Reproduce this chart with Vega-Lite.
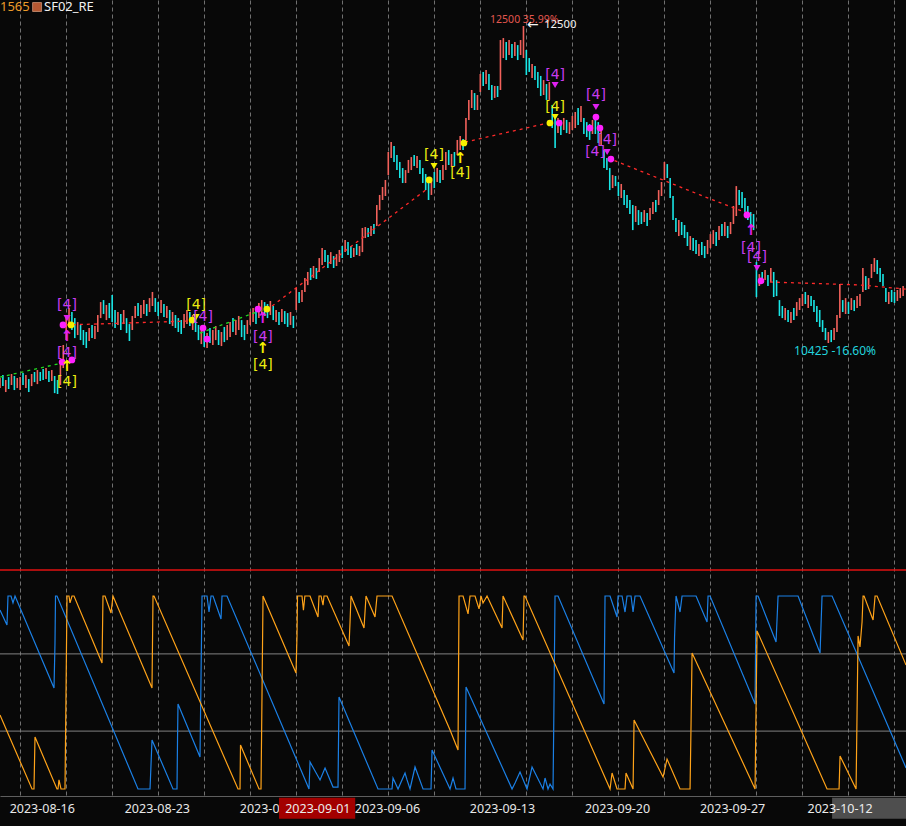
{
  "$schema": "https://vega.github.io/schema/vega-lite/v6.json",
  "width": 906,
  "height": 796,
  "autosize": {"type": "none"},
  "padding": {"left": 0, "top": 0, "right": 0, "bottom": 30},
  "background": "#080808",
  "config": {"view": {"stroke": null}, "font": "Noto Sans"},
  "datasets": {
    "bars": [
      {"i":-7,"l":10130,"h":10196,"d":"up"},{"i":-6,"l":10143,"h":10215,"d":"dn"},{"i":-5,"l":10104,"h":10183,"d":"up"},{"i":-4,"l":10124,"h":10202,"d":"dn"},{"i":-3,"l":10150,"h":10222,"d":"up"},{"i":-2,"l":10117,"h":10209,"d":"dn"},{"i":-1,"l":10130,"h":10196,"d":"up"},
      {"i":0,"l":10117,"h":10202,"d":"up"},{"i":1,"l":10150,"h":10228,"d":"dn"},{"i":2,"l":10130,"h":10215,"d":"up"},{"i":3,"l":10104,"h":10189,"d":"dn"},{"i":4,"l":10143,"h":10222,"d":"up"},{"i":5,"l":10169,"h":10235,"d":"dn"},{"i":6,"l":10156,"h":10248,"d":"up"},{"i":7,"l":10176,"h":10235,"d":"dn"},
      {"i":8,"l":10183,"h":10255,"d":"dn"},{"i":9,"l":10189,"h":10261,"d":"up"},{"i":10,"l":10169,"h":10241,"d":"dn"},{"i":11,"l":10176,"h":10248,"d":"up"},{"i":12,"l":10097,"h":10209,"d":"dn"},{"i":13,"l":10091,"h":10183,"d":"dn"},{"i":14,"l":10150,"h":10300,"d":"up"},{"i":15,"l":10261,"h":10412,"d":"up"},
      {"i":16,"l":10444,"h":10588,"d":"up"},{"i":17,"l":10543,"h":10654,"d":"up"},{"i":18,"l":10510,"h":10628,"d":"dn"},{"i":19,"l":10457,"h":10588,"d":"dn"},{"i":20,"l":10477,"h":10562,"d":"up"},{"i":21,"l":10444,"h":10543,"d":"dn"},{"i":22,"l":10412,"h":10510,"d":"dn"},{"i":23,"l":10392,"h":10497,"d":"dn"},
      {"i":24,"l":10438,"h":10523,"d":"up"},{"i":25,"l":10457,"h":10543,"d":"dn"},{"i":26,"l":10451,"h":10536,"d":"up"},{"i":27,"l":10497,"h":10608,"d":"up"},{"i":28,"l":10588,"h":10693,"d":"up"},{"i":29,"l":10615,"h":10706,"d":"dn"},{"i":30,"l":10575,"h":10674,"d":"up"},{"i":31,"l":10588,"h":10687,"d":"dn"},
      {"i":32,"l":10562,"h":10739,"d":"dn"},{"i":33,"l":10523,"h":10641,"d":"dn"},{"i":34,"l":10543,"h":10628,"d":"up"},{"i":35,"l":10510,"h":10615,"d":"dn"},{"i":36,"l":10549,"h":10641,"d":"up"},{"i":37,"l":10490,"h":10588,"d":"dn"},{"i":38,"l":10438,"h":10549,"d":"dn"},{"i":39,"l":10510,"h":10602,"d":"up"},
      {"i":40,"l":10588,"h":10667,"d":"up"},{"i":41,"l":10602,"h":10687,"d":"dn"},{"i":42,"l":10588,"h":10674,"d":"up"},{"i":43,"l":10615,"h":10706,"d":"up"},{"i":44,"l":10602,"h":10680,"d":"dn"},{"i":45,"l":10628,"h":10719,"d":"up"},{"i":46,"l":10667,"h":10759,"d":"up"},{"i":47,"l":10628,"h":10719,"d":"dn"},
      {"i":48,"l":10602,"h":10693,"d":"dn"},{"i":49,"l":10621,"h":10706,"d":"up"},{"i":50,"l":10595,"h":10680,"d":"dn"},{"i":51,"l":10588,"h":10667,"d":"up"},{"i":52,"l":10549,"h":10641,"d":"dn"},{"i":53,"l":10536,"h":10628,"d":"up"},{"i":54,"l":10523,"h":10608,"d":"dn"},{"i":55,"l":10497,"h":10588,"d":"dn"},
      {"i":56,"l":10484,"h":10575,"d":"dn"},{"i":57,"l":10523,"h":10615,"d":"up"},{"i":58,"l":10549,"h":10641,"d":"up"},{"i":59,"l":10536,"h":10628,"d":"dn"},{"i":60,"l":10510,"h":10608,"d":"up"},{"i":61,"l":10497,"h":10588,"d":"dn"},{"i":62,"l":10444,"h":10543,"d":"dn"},{"i":63,"l":10418,"h":10523,"d":"up"},
      {"i":64,"l":10399,"h":10510,"d":"dn"},{"i":65,"l":10392,"h":10490,"d":"up"},{"i":66,"l":10425,"h":10523,"d":"dn"},{"i":67,"l":10412,"h":10510,"d":"up"},{"i":68,"l":10444,"h":10536,"d":"up"},{"i":69,"l":10412,"h":10510,"d":"dn"},{"i":70,"l":10405,"h":10497,"d":"up"},{"i":71,"l":10431,"h":10530,"d":"dn"},
      {"i":72,"l":10444,"h":10543,"d":"up"},{"i":73,"l":10464,"h":10562,"d":"up"},{"i":74,"l":10497,"h":10588,"d":"dn"},{"i":75,"l":10477,"h":10575,"d":"up"},{"i":76,"l":10510,"h":10602,"d":"up"},{"i":77,"l":10464,"h":10575,"d":"dn"},{"i":78,"l":10444,"h":10543,"d":"dn"},{"i":79,"l":10484,"h":10575,"d":"up"},
      {"i":80,"l":10543,"h":10628,"d":"up"},{"i":81,"l":10562,"h":10654,"d":"up"},{"i":82,"l":10549,"h":10641,"d":"dn"},{"i":83,"l":10588,"h":10687,"d":"up"},{"i":84,"l":10615,"h":10706,"d":"up"},{"i":85,"l":10602,"h":10693,"d":"dn"},{"i":86,"l":10588,"h":10680,"d":"dn"},{"i":87,"l":10608,"h":10700,"d":"up"},
      {"i":88,"l":10575,"h":10667,"d":"dn"},{"i":89,"l":10562,"h":10641,"d":"up"},{"i":90,"l":10543,"h":10628,"d":"dn"},{"i":91,"l":10562,"h":10647,"d":"up"},{"i":92,"l":10549,"h":10634,"d":"dn"},{"i":93,"l":10530,"h":10621,"d":"dn"},{"i":94,"l":10543,"h":10628,"d":"up"},{"i":95,"l":10523,"h":10602,"d":"dn"},
      {"i":96,"l":10641,"h":10785,"d":"up"},{"i":97,"l":10687,"h":10759,"d":"dn"},{"i":98,"l":10693,"h":10772,"d":"up"},{"i":99,"l":10759,"h":10850,"d":"up"},{"i":100,"l":10804,"h":10890,"d":"up"},{"i":101,"l":10837,"h":10916,"d":"dn"},{"i":102,"l":10850,"h":10929,"d":"up"},{"i":103,"l":10844,"h":10916,"d":"dn"},
      {"i":104,"l":10890,"h":10981,"d":"up"},{"i":105,"l":10935,"h":11047,"d":"up"},{"i":106,"l":10955,"h":11034,"d":"dn"},{"i":107,"l":10916,"h":11001,"d":"dn"},{"i":108,"l":10942,"h":11020,"d":"up"},{"i":109,"l":10916,"h":10994,"d":"dn"},{"i":110,"l":10929,"h":11007,"d":"up"},{"i":111,"l":10955,"h":11034,"d":"up"},
      {"i":112,"l":10981,"h":11060,"d":"dn"},{"i":113,"l":11020,"h":11099,"d":"up"},{"i":114,"l":11001,"h":11086,"d":"dn"},{"i":115,"l":10981,"h":11060,"d":"dn"},{"i":116,"l":10988,"h":11047,"d":"up"},{"i":117,"l":11001,"h":11073,"d":"dn"},{"i":118,"l":10994,"h":11060,"d":"up"},{"i":119,"l":11020,"h":11178,"d":"up"},
      {"i":120,"l":11112,"h":11184,"d":"up"},{"i":121,"l":11119,"h":11178,"d":"dn"},{"i":122,"l":11125,"h":11191,"d":"up"},{"i":123,"l":11138,"h":11204,"d":"dn"},{"i":124,"l":11191,"h":11328,"d":"up"},{"i":125,"l":11295,"h":11394,"d":"up"},{"i":126,"l":11361,"h":11446,"d":"up"},{"i":127,"l":11387,"h":11492,"d":"up"},
      {"i":128,"l":11524,"h":11675,"d":"up"},{"i":129,"l":11636,"h":11740,"d":"up"},{"i":130,"l":11610,"h":11714,"d":"dn"},{"i":131,"l":11557,"h":11655,"d":"dn"},{"i":132,"l":11505,"h":11610,"d":"dn"},{"i":133,"l":11472,"h":11570,"d":"dn"},{"i":134,"l":11472,"h":11557,"d":"up"},{"i":135,"l":11538,"h":11623,"d":"up"},
      {"i":136,"l":11557,"h":11642,"d":"up"},{"i":137,"l":11583,"h":11655,"d":"dn"},{"i":138,"l":11570,"h":11649,"d":"up"},{"i":139,"l":11531,"h":11623,"d":"dn"},{"i":140,"l":11472,"h":11570,"d":"dn"},{"i":141,"l":11426,"h":11531,"d":"dn"},{"i":142,"l":11361,"h":11492,"d":"dn"},{"i":143,"l":11394,"h":11505,"d":"up"},
      {"i":144,"l":11439,"h":11544,"d":"dn"},{"i":145,"l":11479,"h":11570,"d":"up"},{"i":146,"l":11472,"h":11557,"d":"dn"},{"i":147,"l":11492,"h":11590,"d":"up"},{"i":148,"l":11557,"h":11675,"d":"up"},{"i":149,"l":11590,"h":11688,"d":"dn"},{"i":150,"l":11577,"h":11662,"d":"up"},{"i":151,"l":11583,"h":11675,"d":"dn"},
      {"i":152,"l":11655,"h":11754,"d":"up"},{"i":153,"l":11688,"h":11780,"d":"up"},{"i":154,"l":11688,"h":11760,"d":"dn"},{"i":155,"l":11754,"h":11898,"d":"up"},{"i":156,"l":11885,"h":12016,"d":"up"},{"i":157,"l":11963,"h":12081,"d":"up"},{"i":158,"l":11950,"h":12061,"d":"dn"},{"i":159,"l":11950,"h":12048,"d":"up"},
      {"i":160,"l":12068,"h":12186,"d":"up"},{"i":161,"l":12107,"h":12199,"d":"dn"},{"i":162,"l":12120,"h":12212,"d":"up"},{"i":163,"l":12081,"h":12186,"d":"dn"},{"i":164,"l":12016,"h":12114,"d":"dn"},{"i":165,"l":12029,"h":12107,"d":"up"},{"i":166,"l":12035,"h":12107,"d":"dn"},{"i":167,"l":12081,"h":12408,"d":"up"},
      {"i":168,"l":12290,"h":12421,"d":"up"},{"i":169,"l":12277,"h":12395,"d":"dn"},{"i":170,"l":12310,"h":12408,"d":"up"},{"i":171,"l":12290,"h":12382,"d":"dn"},{"i":172,"l":12303,"h":12395,"d":"up"},{"i":173,"l":12277,"h":12375,"d":"dn"},{"i":174,"l":12310,"h":12408,"d":"up"},{"i":175,"l":12290,"h":12500,"d":"up"},
      {"i":176,"l":12179,"h":12343,"d":"dn"},{"i":177,"l":12199,"h":12290,"d":"dn"},{"i":178,"l":12159,"h":12251,"d":"up"},{"i":179,"l":12146,"h":12238,"d":"dn"},{"i":180,"l":12094,"h":12199,"d":"dn"},{"i":181,"l":12042,"h":12173,"d":"dn"},{"i":182,"l":12048,"h":12146,"d":"up"},{"i":183,"l":12016,"h":12120,"d":"dn"},
      {"i":184,"l":12016,"h":12133,"d":"up"},{"i":185,"l":11832,"h":11983,"d":"dn"},{"i":186,"l":11701,"h":11917,"d":"dn"},{"i":187,"l":11799,"h":11898,"d":"up"},{"i":188,"l":11786,"h":11885,"d":"dn"},{"i":189,"l":11819,"h":11898,"d":"up"},{"i":190,"l":11799,"h":11885,"d":"dn"},{"i":191,"l":11793,"h":11871,"d":"up"},
      {"i":192,"l":11819,"h":11911,"d":"up"},{"i":193,"l":11832,"h":11937,"d":"up"},{"i":194,"l":11852,"h":11963,"d":"dn"},{"i":195,"l":11871,"h":11976,"d":"up"},{"i":196,"l":11793,"h":11898,"d":"dn"},{"i":197,"l":11773,"h":11871,"d":"dn"},{"i":198,"l":11754,"h":11858,"d":"dn"},{"i":199,"l":11793,"h":11885,"d":"up"},
      {"i":200,"l":11793,"h":11898,"d":"dn"},{"i":201,"l":11734,"h":11871,"d":"dn"},{"i":202,"l":11721,"h":11832,"d":"up"},{"i":203,"l":11570,"h":11688,"d":"dn"},{"i":204,"l":11557,"h":11636,"d":"dn"},{"i":205,"l":11426,"h":11570,"d":"dn"},{"i":206,"l":11439,"h":11524,"d":"up"},{"i":207,"l":11452,"h":11518,"d":"dn"},
      {"i":208,"l":11387,"h":11479,"d":"dn"},{"i":209,"l":11374,"h":11466,"d":"up"},{"i":210,"l":11328,"h":11426,"d":"dn"},{"i":211,"l":11308,"h":11394,"d":"dn"},{"i":212,"l":11269,"h":11361,"d":"dn"},{"i":213,"l":11164,"h":11328,"d":"dn"},{"i":214,"l":11217,"h":11322,"d":"up"},{"i":215,"l":11197,"h":11295,"d":"dn"},
      {"i":216,"l":11204,"h":11282,"d":"dn"},{"i":217,"l":11217,"h":11295,"d":"up"},{"i":218,"l":11191,"h":11276,"d":"dn"},{"i":219,"l":11230,"h":11308,"d":"up"},{"i":220,"l":11269,"h":11348,"d":"up"},{"i":221,"l":11282,"h":11361,"d":"dn"},{"i":222,"l":11328,"h":11426,"d":"up"},{"i":223,"l":11387,"h":11479,"d":"up"},
      {"i":224,"l":11492,"h":11610,"d":"up"},{"i":225,"l":11505,"h":11596,"d":"dn"},{"i":226,"l":11374,"h":11505,"d":"dn"},{"i":227,"l":11230,"h":11387,"d":"dn"},{"i":228,"l":11151,"h":11243,"d":"dn"},{"i":229,"l":11125,"h":11230,"d":"up"},{"i":230,"l":11132,"h":11217,"d":"dn"},{"i":231,"l":11112,"h":11197,"d":"dn"},
      {"i":232,"l":11060,"h":11151,"d":"dn"},{"i":233,"l":11034,"h":11125,"d":"up"},{"i":234,"l":11027,"h":11112,"d":"dn"},{"i":235,"l":11007,"h":11099,"d":"dn"},{"i":236,"l":10994,"h":11073,"d":"up"},{"i":237,"l":11001,"h":11086,"d":"dn"},{"i":238,"l":10981,"h":11060,"d":"dn"},{"i":239,"l":11007,"h":11099,"d":"up"},
      {"i":240,"l":11047,"h":11138,"d":"up"},{"i":241,"l":11073,"h":11164,"d":"up"},{"i":242,"l":11060,"h":11151,"d":"dn"},{"i":243,"l":11099,"h":11191,"d":"up"},{"i":244,"l":11125,"h":11204,"d":"dn"},{"i":245,"l":11125,"h":11217,"d":"up"},{"i":246,"l":11112,"h":11191,"d":"dn"},{"i":247,"l":11138,"h":11217,"d":"up"},
      {"i":248,"l":11204,"h":11322,"d":"up"},{"i":249,"l":11256,"h":11452,"d":"up"},{"i":250,"l":11328,"h":11426,"d":"dn"},{"i":251,"l":11308,"h":11413,"d":"dn"},{"i":252,"l":11282,"h":11374,"d":"dn"},{"i":253,"l":11230,"h":11322,"d":"dn"},{"i":254,"l":11178,"h":11282,"d":"dn"},{"i":255,"l":11164,"h":11269,"d":"dn"},
      {"i":256,"l":10726,"h":10955,"d":"dn"},{"i":257,"l":10798,"h":10876,"d":"up"},{"i":258,"l":10824,"h":10890,"d":"dn"},{"i":259,"l":10837,"h":10903,"d":"up"},{"i":260,"l":10798,"h":10870,"d":"dn"},{"i":261,"l":10824,"h":10916,"d":"up"},{"i":262,"l":10726,"h":10890,"d":"dn"},{"i":263,"l":10732,"h":10837,"d":"dn"},
      {"i":264,"l":10602,"h":10706,"d":"dn"},{"i":265,"l":10588,"h":10667,"d":"dn"},{"i":266,"l":10575,"h":10654,"d":"up"},{"i":267,"l":10562,"h":10641,"d":"dn"},{"i":268,"l":10556,"h":10628,"d":"up"},{"i":269,"l":10575,"h":10654,"d":"dn"},{"i":270,"l":10602,"h":10693,"d":"up"},{"i":271,"l":10641,"h":10719,"d":"up"},
      {"i":272,"l":10667,"h":10746,"d":"up"},{"i":273,"l":10680,"h":10759,"d":"dn"},{"i":274,"l":10654,"h":10739,"d":"up"},{"i":275,"l":10667,"h":10732,"d":"dn"},{"i":276,"l":10628,"h":10706,"d":"dn"},{"i":277,"l":10562,"h":10667,"d":"dn"},{"i":278,"l":10530,"h":10641,"d":"dn"},{"i":279,"l":10497,"h":10575,"d":"dn"},
      {"i":280,"l":10444,"h":10523,"d":"dn"},{"i":281,"l":10425,"h":10497,"d":"up"},{"i":282,"l":10431,"h":10510,"d":"dn"},{"i":283,"l":10444,"h":10523,"d":"up"},{"i":284,"l":10497,"h":10608,"d":"up"},{"i":285,"l":10588,"h":10811,"d":"up"},{"i":286,"l":10628,"h":10706,"d":"dn"},{"i":287,"l":10615,"h":10719,"d":"up"},
      {"i":288,"l":10615,"h":10693,"d":"dn"},{"i":289,"l":10641,"h":10719,"d":"up"},{"i":290,"l":10634,"h":10706,"d":"dn"},{"i":291,"l":10654,"h":10732,"d":"up"},{"i":292,"l":10667,"h":10746,"d":"up"},{"i":293,"l":10759,"h":10916,"d":"up"},{"i":294,"l":10772,"h":10863,"d":"dn"},{"i":295,"l":10778,"h":10850,"d":"up"},
      {"i":296,"l":10850,"h":10942,"d":"up"},{"i":297,"l":10890,"h":10981,"d":"up"},{"i":298,"l":10876,"h":10968,"d":"dn"},{"i":299,"l":10824,"h":10916,"d":"dn"},{"i":300,"l":10798,"h":10876,"d":"dn"},{"i":301,"l":10693,"h":10785,"d":"dn"},{"i":302,"l":10680,"h":10759,"d":"up"},{"i":303,"l":10693,"h":10772,"d":"dn"},
      {"i":304,"l":10687,"h":10759,"d":"dn"},{"i":305,"l":10700,"h":10772,"d":"up"},{"i":306,"l":10719,"h":10785,"d":"up"},{"i":307,"l":10732,"h":10798,"d":"up"}
    ],
    "trend": [
      {"seg":1,"kind":"sup","i":-7,"p":10202},{"seg":1,"kind":"sup","i":14.6,"p":10294},
      {"seg":2,"kind":"sup","i":62.5,"p":10490},{"seg":2,"kind":"sup","i":84.1,"p":10641},
      {"seg":3,"kind":"res","i":15.9,"p":10543},{"seg":3,"kind":"res","i":59.1,"p":10569},
      {"seg":4,"kind":"res","i":87.6,"p":10667},{"seg":4,"kind":"res","i":141.5,"p":11433},
      {"seg":5,"kind":"res","i":154.7,"p":11740},{"seg":5,"kind":"res","i":184.9,"p":11871},
      {"seg":6,"kind":"res","i":204.4,"p":11636},{"seg":6,"kind":"res","i":236.4,"p":11394},{"seg":6,"kind":"res","i":254.5,"p":11263},
      {"seg":7,"kind":"res","i":260.7,"p":10824},{"seg":7,"kind":"res","i":292,"p":10805},{"seg":7,"kind":"res","i":308,"p":10778}
    ],
    "marks": [
      {"kind":"tag","col":"m","i":16.3,"p":10674},{"kind":"tag","col":"m","i":16.3,"p":10359},{"kind":"tag","col":"m","i":63.6,"p":10595},{"kind":"tag","col":"m","i":84.4,"p":10464},{"kind":"tag","col":"m","i":186.0,"p":12179},{"kind":"tag","col":"m","i":200.2,"p":12048},{"kind":"tag","col":"m","i":204.1,"p":11754},{"kind":"tag","col":"m","i":199.9,"p":11675},{"kind":"tag","col":"m","i":254.1,"p":11047},{"kind":"tag","col":"m","i":256.2,"p":10988},
      {"kind":"tag","col":"y","i":16.3,"p":10169},{"kind":"tag","col":"y","i":61.2,"p":10674},{"kind":"tag","col":"y","i":84.4,"p":10281},{"kind":"tag","col":"y","i":143.9,"p":11655},{"kind":"tag","col":"y","i":153.0,"p":11538},{"kind":"tag","col":"y","i":186.0,"p":11970},
      {"kind":"dn","col":"m","i":186.0,"p":12114},{"kind":"dn","col":"m","i":200.2,"p":11970},{"kind":"dn","col":"m","i":204.1,"p":11675},{"kind":"dn","col":"m","i":256.2,"p":10916},{"kind":"dn","col":"m","i":16.3,"p":10588},
      {"kind":"dn","col":"y","i":61.2,"p":10595},{"kind":"dn","col":"y","i":143.9,"p":11583},{"kind":"dn","col":"y","i":186.0,"p":11904},
      {"kind":"up","col":"y","i":16.3,"p":10274},{"kind":"up","col":"y","i":84.4,"p":10392},{"kind":"up","col":"y","i":153.0,"p":11636},
      {"kind":"up","col":"m","i":16.3,"p":10471},{"kind":"up","col":"m","i":84.4,"p":10588},{"kind":"up","col":"m","i":254.1,"p":11164},
      {"kind":"dot","col":"y","i":17.7,"p":10543},{"kind":"dot","col":"y","i":59.8,"p":10575},{"kind":"dot","col":"y","i":85.8,"p":10647},{"kind":"dot","col":"y","i":142.2,"p":11492},{"kind":"dot","col":"y","i":154.3,"p":11734},{"kind":"dot","col":"y","i":184.2,"p":11865},
      {"kind":"dot","col":"m","i":14.9,"p":10543},{"kind":"dot","col":"m","i":63.6,"p":10523},{"kind":"dot","col":"m","i":65.0,"p":10451},{"kind":"dot","col":"m","i":82.7,"p":10647},{"kind":"dot","col":"m","i":187.4,"p":11865},{"kind":"dot","col":"m","i":200.2,"p":11904},{"kind":"dot","col":"m","i":198.1,"p":11832},{"kind":"dot","col":"m","i":201.6,"p":11832},{"kind":"dot","col":"m","i":205.4,"p":11629},{"kind":"dot","col":"m","i":252.7,"p":11263},{"kind":"dot","col":"m","i":257.6,"p":10831},{"kind":"dot","col":"m","i":14.6,"p":10300},{"kind":"dot","col":"m","i":18.0,"p":10314}
    ],
    "ind": [
      {"s":"B","i":-7,"v":92.7},{"s":"B","i":-4.57,"v":85.0},{"s":"B","i":-4.22,"v":100},{"s":"B","i":-3.18,"v":100},{"s":"B","i":-2.48,"v":96.4},{"s":"B","i":-1.78,"v":100},{"s":"B","i":11.78,"v":52.3},{"s":"B","i":12.12,"v":75.6},{"s":"B","i":12.3,"v":100},{"s":"B","i":12.82,"v":100},{"s":"B","i":40.98,"v":0},{"s":"B","i":45.16,"v":0},{"s":"B","i":45.5,"v":12.4},{"s":"B","i":45.85,"v":25.4},{"s":"B","i":53.15,"v":0},{"s":"B","i":54.54,"v":0},{"s":"B","i":54.72,"v":25.4},{"s":"B","i":54.89,"v":44.0},{"s":"B","i":62.54,"v":16.6},{"s":"B","i":62.89,"v":58.0},{"s":"B","i":63.24,"v":100},{"s":"B","i":64.98,"v":100},{"s":"B","i":65.67,"v":91.7},{"s":"B","i":66.37,"v":100},{"s":"B","i":67.06,"v":100},{"s":"B","i":69.84,"v":88.1},{"s":"B","i":70.19,"v":100},{"s":"B","i":71.93,"v":100},{"s":"B","i":100.44,"v":0},{"s":"B","i":100.79,"v":14.0},{"s":"B","i":104.27,"v":4.7},{"s":"B","i":106.01,"v":10.9},{"s":"B","i":108.79,"v":1.0},{"s":"B","i":110.52,"v":1.0},{"s":"B","i":110.87,"v":47.7},{"s":"B","i":124.43,"v":0},{"s":"B","i":129.3,"v":0},{"s":"B","i":129.65,"v":5.7},{"s":"B","i":131.39,"v":0},{"s":"B","i":133.82,"v":8.3},{"s":"B","i":134.52,"v":4.7},{"s":"B","i":135.56,"v":0},{"s":"B","i":137.3,"v":11.4},{"s":"B","i":140.08,"v":0},{"s":"B","i":142.86,"v":0},{"s":"B","i":143.21,"v":20.2},{"s":"B","i":149.47,"v":0},{"s":"B","i":150.51,"v":5.7},{"s":"B","i":151.55,"v":0},{"s":"B","i":154.68,"v":0},{"s":"B","i":155.03,"v":52.8},{"s":"B","i":171.03,"v":0},{"s":"B","i":172.07,"v":3.1},{"s":"B","i":173.8,"v":8.8},{"s":"B","i":176.24,"v":0},{"s":"B","i":177.98,"v":11.4},{"s":"B","i":181.8,"v":0},{"s":"B","i":182.5,"v":5.7},{"s":"B","i":183.54,"v":0},{"s":"B","i":184.24,"v":2.6},{"s":"B","i":185.28,"v":0},{"s":"B","i":185.63,"v":47.7},{"s":"B","i":185.97,"v":100},{"s":"B","i":187.02,"v":100},{"s":"B","i":203.01,"v":44.0},{"s":"B","i":203.18,"v":72.0},{"s":"B","i":203.36,"v":100},{"s":"B","i":205.1,"v":100},{"s":"B","i":207.53,"v":89.1},{"s":"B","i":207.88,"v":100},{"s":"B","i":209.27,"v":100},{"s":"B","i":210.31,"v":91.7},{"s":"B","i":211.01,"v":100},{"s":"B","i":212.4,"v":100},{"s":"B","i":213.1,"v":91.7},{"s":"B","i":213.79,"v":100},{"s":"B","i":215.53,"v":100},{"s":"B","i":227.35,"v":60.1},{"s":"B","i":227.53,"v":78.8},{"s":"B","i":228.05,"v":100},{"s":"B","i":229.44,"v":91.7},{"s":"B","i":230.14,"v":100},{"s":"B","i":235.01,"v":100},{"s":"B","i":238.83,"v":86.5},{"s":"B","i":239.18,"v":100},{"s":"B","i":239.87,"v":100},{"s":"B","i":255.52,"v":44.0},{"s":"B","i":255.87,"v":100},{"s":"B","i":256.56,"v":100},{"s":"B","i":262.82,"v":76.2},{"s":"B","i":263.52,"v":100},{"s":"B","i":270.47,"v":100},{"s":"B","i":278.12,"v":70.5},{"s":"B","i":278.46,"v":85.0},{"s":"B","i":278.81,"v":100},{"s":"B","i":282.29,"v":100},{"s":"B","i":308.02,"v":10.9},
      {"s":"A","i":-7,"v":38.3},{"s":"A","i":4.13,"v":0},{"s":"A","i":4.82,"v":0},{"s":"A","i":5.17,"v":26.9},{"s":"A","i":12.82,"v":0},{"s":"A","i":13.17,"v":0},{"s":"A","i":13.51,"v":4.7},{"s":"A","i":14.21,"v":0},{"s":"A","i":15.6,"v":0},{"s":"A","i":15.95,"v":49.7},{"s":"A","i":16.3,"v":100},{"s":"A","i":16.99,"v":100},{"s":"A","i":17.34,"v":96.4},{"s":"A","i":18.03,"v":100},{"s":"A","i":18.73,"v":100},{"s":"A","i":28.47,"v":65.3},{"s":"A","i":28.64,"v":82.4},{"s":"A","i":28.81,"v":100},{"s":"A","i":29.51,"v":100},{"s":"A","i":31.6,"v":91.2},{"s":"A","i":32.29,"v":100},{"s":"A","i":45.85,"v":52.3},{"s":"A","i":46.02,"v":75.6},{"s":"A","i":46.2,"v":100},{"s":"A","i":46.55,"v":100},{"s":"A","i":75.75,"v":0},{"s":"A","i":76.45,"v":0},{"s":"A","i":76.62,"v":22.8},{"s":"A","i":83.06,"v":0},{"s":"A","i":83.75,"v":0},{"s":"A","i":84.1,"v":49.7},{"s":"A","i":84.45,"v":100},{"s":"A","i":95.92,"v":60.1},{"s":"A","i":96.27,"v":79.8},{"s":"A","i":96.44,"v":100},{"s":"A","i":98,"v":100},{"s":"A","i":98.5,"v":92.7},{"s":"A","i":99,"v":100},{"s":"A","i":100.79,"v":100},{"s":"A","i":103.57,"v":89.1},{"s":"A","i":103.92,"v":100},{"s":"A","i":104.62,"v":100},{"s":"A","i":105.31,"v":95.3},{"s":"A","i":105.66,"v":100},{"s":"A","i":106.7,"v":100},{"s":"A","i":114.35,"v":74.1},{"s":"A","i":114.7,"v":86.5},{"s":"A","i":115.04,"v":100},{"s":"A","i":119.56,"v":83.4},{"s":"A","i":120.26,"v":100},{"s":"A","i":123.39,"v":89.1},{"s":"A","i":124.08,"v":100},{"s":"A","i":129.3,"v":100},{"s":"A","i":149.47,"v":30.6},{"s":"A","i":152.25,"v":20.2},{"s":"A","i":152.42,"v":60.1},{"s":"A","i":152.6,"v":100},{"s":"A","i":153.99,"v":100},{"s":"A","i":155.73,"v":90.7},{"s":"A","i":156.42,"v":100},{"s":"A","i":158.16,"v":100},{"s":"A","i":159.55,"v":93.3},{"s":"A","i":160.25,"v":100},{"s":"A","i":160.94,"v":96.4},{"s":"A","i":162.33,"v":100},{"s":"A","i":167.55,"v":83.4},{"s":"A","i":167.89,"v":100},{"s":"A","i":174.85,"v":77.2},{"s":"A","i":175.2,"v":100},{"s":"A","i":175.54,"v":100},{"s":"A","i":205.1,"v":0},{"s":"A","i":205.8,"v":8.3},{"s":"A","i":207.53,"v":0},{"s":"A","i":210.31,"v":0},{"s":"A","i":210.66,"v":8.3},{"s":"A","i":213.1,"v":0},{"s":"A","i":213.45,"v":35.8},{"s":"A","i":223.53,"v":6.2},{"s":"A","i":224.92,"v":15.5},{"s":"A","i":229.44,"v":0},{"s":"A","i":232.92,"v":0},{"s":"A","i":233.27,"v":34.2},{"s":"A","i":233.62,"v":70.5},{"s":"A","i":255.52,"v":0},{"s":"A","i":255.87,"v":42.5},{"s":"A","i":256.21,"v":81.9},{"s":"A","i":280.55,"v":0},{"s":"A","i":284.73,"v":0},{"s":"A","i":285.07,"v":17.1},{"s":"A","i":290.64,"v":0},{"s":"A","i":290.98,"v":39.4},{"s":"A","i":291.33,"v":79.3},{"s":"A","i":292,"v":73.6},{"s":"A","i":292.72,"v":86.5},{"s":"A","i":293.07,"v":100},{"s":"A","i":293.42,"v":100},{"s":"A","i":296.55,"v":87.6},{"s":"A","i":297.25,"v":100},{"s":"A","i":297.94,"v":100},{"s":"A","i":308.02,"v":64.2}
    ],
    "notes": [
      {"txt":"12500 35.99%","i":163.4,"p":12539,"role":"peak"},
      {"txt":"12500","i":182.2,"p":12506,"role":"peakval"},
      {"txt":"10425 -16.60%","i":269.1,"p":10372,"role":"trough"}
    ],
    "head": [
      {"txt":"1565","i":-7,"p":12624,"role":"code"},
      {"txt":"SF02_RE","i":8.3,"p":12624,"role":"name"}
    ],
    "dates": [
      {"date":"2023-08-16","i":7.7},{"date":"2023-08-23","i":47.7},{"date":"2023-08-30","i":87.7},{"date":"2023-09-06","i":127.7},{"date":"2023-09-13","i":167.7},{"date":"2023-09-20","i":207.7},{"date":"2023-09-27","i":247.7}
    ],
    "levels": [{"lvl":70},{"lvl":30}]
  },
  "layer": [
    {
      "data": {"name": "bars"},
      "mark": {"type": "rule", "strokeWidth": 1.6},
      "encoding": {
        "x": {"field": "i", "type": "quantitative", "title": null,
          "scale": {"domain": [-7, 308], "nice": false, "zero": false},
          "axis": {
            "values": [0,8,16,24,32,40,48,56,64,72,80,88,96,104,112,120,128,136,144,152,160,168,176,184,192,200,208,216,224,232,240,248,256,264,272,280,288,296,304],
            "labels": false,
            "grid": true, "gridDash": [4, 3], "gridColor": "#707070", "gridWidth": 1,
            "ticks": false, "domainColor": "#5e5e5e", "title": null
          }
        },
        "y": {"field": "l", "type": "quantitative", "scale": {"domain": [7460, 12670], "nice": false, "zero": false}, "axis": null},
        "y2": {"field": "h"},
        "color": {"field": "d", "type": "nominal", "scale": {"domain": ["up", "dn"], "range": ["#f2615b", "#19e6e6"]}, "legend": null}
      }
    },
    {
      "data": {"name": "levels"},
      "mark": {"type": "rule", "color": "#828282", "strokeWidth": 1},
      "encoding": {
        "y": {"field": "lvl", "type": "quantitative", "scale": {"domain": [-3.63, 408.81], "nice": false, "zero": false}, "axis": null}
      }
    },
    {
      "data": {"values": [{"sep": "panel"}]},
      "mark": {"type": "rule", "color": "#e01010", "strokeWidth": 1.5},
      "encoding": {
        "y": {"datum": 113.5, "type": "quantitative", "scale": {"domain": [-3.63, 408.81], "nice": false, "zero": false}, "axis": null}
      }
    },
    {
      "data": {"name": "ind"},
      "mark": {"type": "line", "strokeWidth": 1.2},
      "encoding": {
        "x": {"field": "i", "type": "quantitative", "title": null, "scale": {"domain": [-7, 308], "nice": false, "zero": false}},
        "y": {"field": "v", "type": "quantitative", "scale": {"domain": [-3.63, 408.81], "nice": false, "zero": false}, "axis": null},
        "color": {"field": "s", "type": "nominal", "scale": {"domain": ["A", "B"], "range": ["#ffa319", "#1b80e6"]}, "legend": null}
      }
    },
    {
      "data": {"name": "trend"},
      "mark": {"type": "line", "strokeWidth": 1.3, "strokeDash": [3, 4]},
      "encoding": {
        "x": {"field": "i", "type": "quantitative", "title": null, "scale": {"domain": [-7, 308], "nice": false, "zero": false}},
        "y": {"field": "p", "type": "quantitative", "scale": {"domain": [7460, 12670], "nice": false, "zero": false}, "axis": null},
        "detail": {"field": "seg", "type": "nominal"},
        "color": {"field": "kind", "type": "nominal", "scale": {"domain": ["sup", "res"], "range": ["#22dd22", "#ff2a2a"]}, "legend": null}
      }
    },
    {
      "data": {"name": "marks"},
      "transform": [{"filter": "datum.kind == 'dot'"}],
      "mark": {"type": "point", "filled": true, "size": 45, "opacity": 1},
      "encoding": {
        "x": {"field": "i", "type": "quantitative", "title": null, "scale": {"domain": [-7, 308], "nice": false, "zero": false}},
        "y": {"field": "p", "type": "quantitative", "scale": {"domain": [7460, 12670], "nice": false, "zero": false}, "axis": null},
        "color": {"field": "col", "type": "nominal", "scale": {"domain": ["y", "m"], "range": ["#f5f000", "#ff20ff"]}, "legend": null}
      }
    },
    {
      "data": {"name": "marks"},
      "transform": [{"filter": "datum.kind == 'dn'"}],
      "mark": {"type": "point", "shape": "triangle-down", "filled": true, "size": 50, "opacity": 1},
      "encoding": {
        "x": {"field": "i", "type": "quantitative", "title": null, "scale": {"domain": [-7, 308], "nice": false, "zero": false}},
        "y": {"field": "p", "type": "quantitative", "scale": {"domain": [7460, 12670], "nice": false, "zero": false}, "axis": null},
        "color": {"field": "col", "type": "nominal", "scale": {"domain": ["y", "m"], "range": ["#f5f000", "#e020f0"]}, "legend": null}
      }
    },
    {
      "data": {"name": "marks"},
      "transform": [{"filter": "datum.kind == 'up'"}],
      "mark": {"type": "text", "text": "↑", "font": "DejaVu Sans", "fontSize": 15, "fontWeight": "bold", "baseline": "middle", "align": "center"},
      "encoding": {
        "x": {"field": "i", "type": "quantitative", "title": null, "scale": {"domain": [-7, 308], "nice": false, "zero": false}},
        "y": {"field": "p", "type": "quantitative", "scale": {"domain": [7460, 12670], "nice": false, "zero": false}, "axis": null},
        "color": {"field": "col", "type": "nominal", "scale": {"domain": ["y", "m"], "range": ["#f5f000", "#e020f0"]}, "legend": null}
      }
    },
    {
      "data": {"name": "marks"},
      "transform": [{"filter": "datum.kind == 'tag'"}],
      "mark": {"type": "text", "text": "[4]", "font": "DejaVu Sans", "fontSize": 14, "baseline": "middle", "align": "center"},
      "encoding": {
        "x": {"field": "i", "type": "quantitative", "title": null, "scale": {"domain": [-7, 308], "nice": false, "zero": false}},
        "y": {"field": "p", "type": "quantitative", "scale": {"domain": [7460, 12670], "nice": false, "zero": false}, "axis": null},
        "color": {"field": "col", "type": "nominal", "scale": {"domain": ["y", "m"], "range": ["#ecec10", "#c83cf0"]}, "legend": null}
      }
    },
    {
      "data": {"name": "notes"},
      "mark": {"type": "text", "font": "Noto Sans", "baseline": "middle", "align": "left"},
      "encoding": {
        "x": {"field": "i", "type": "quantitative", "title": null, "scale": {"domain": [-7, 308], "nice": false, "zero": false}},
        "y": {"field": "p", "type": "quantitative", "scale": {"domain": [7460, 12670], "nice": false, "zero": false}, "axis": null},
        "text": {"field": "txt"},
        "size": {"field": "role", "type": "ordinal", "scale": {"domain": ["peak", "peakval", "trough"], "range": [10.5, 12, 10.5]}, "legend": null},
        "color": {"field": "role", "type": "nominal", "scale": {"domain": ["peak", "peakval", "trough"], "range": ["#e2574f", "#f4f4f4", "#22d3dd"]}, "legend": null}
      }
    },
    {
      "data": {"values": [{"note": "peak pointer"}]},
      "mark": {"type": "text", "text": "←", "font": "DejaVu Sans", "fontSize": 14, "color": "#f4f4f4", "baseline": "middle", "align": "left"},
      "encoding": {
        "x": {"datum": 176.2, "type": "quantitative", "scale": {"domain": [-7, 308], "nice": false, "zero": false}},
        "y": {"datum": 12506, "type": "quantitative", "scale": {"domain": [7460, 12670], "nice": false, "zero": false}, "axis": null}
      }
    },
    {
      "data": {"name": "head"},
      "mark": {"type": "text", "font": "Noto Sans", "fontSize": 13, "baseline": "middle", "align": "left"},
      "encoding": {
        "x": {"field": "i", "type": "quantitative", "title": null, "scale": {"domain": [-7, 308], "nice": false, "zero": false}},
        "y": {"field": "p", "type": "quantitative", "scale": {"domain": [7460, 12670], "nice": false, "zero": false}, "axis": null},
        "text": {"field": "txt"},
        "color": {"field": "role", "type": "nominal", "scale": {"domain": ["code", "name"], "range": ["#eb9b2a", "#f2f2f2"]}, "legend": null}
      }
    },
    {
      "data": {"values": [{"icon": "series"}]},
      "mark": {"type": "point", "shape": "square", "filled": true, "size": 80, "color": "#ff7a45", "stroke": "#ffb088", "strokeWidth": 1},
      "encoding": {
        "x": {"datum": 5.9, "type": "quantitative", "scale": {"domain": [-7, 308], "nice": false, "zero": false}},
        "y": {"datum": 12624, "type": "quantitative", "scale": {"domain": [7460, 12670], "nice": false, "zero": false}, "axis": null}
      }
    },
    {
      "data": {"name": "dates"},
      "mark": {"type": "text", "font": "Noto Sans", "fontSize": 12.5, "color": "#e8e8e8", "baseline": "middle", "align": "center"},
      "encoding": {
        "x": {"field": "i", "type": "quantitative", "title": null, "scale": {"domain": [-7, 308], "nice": false, "zero": false}},
        "y": {"datum": -10.4, "type": "quantitative", "scale": {"domain": [-3.63, 408.81], "nice": false, "zero": false}, "axis": null},
        "text": {"field": "date"}
      }
    },
    {
      "data": {"values": [{"box": "cursor"}]},
      "mark": {"type": "rect", "color": "#a30000"},
      "encoding": {
        "x": {"datum": 90, "type": "quantitative", "scale": {"domain": [-7, 308], "nice": false, "zero": false}},
        "x2": {"datum": 116.5},
        "y": {"datum": -4.6, "type": "quantitative", "scale": {"domain": [-3.63, 408.81], "nice": false, "zero": false}, "axis": null},
        "y2": {"datum": -15.4}
      }
    },
    {
      "data": {"values": [{"box": "edge"}]},
      "mark": {"type": "rect", "color": "#4e4e4e"},
      "encoding": {
        "x": {"datum": 282.3, "type": "quantitative", "scale": {"domain": [-7, 308], "nice": false, "zero": false}},
        "x2": {"datum": 308},
        "y": {"datum": -4.6, "type": "quantitative", "scale": {"domain": [-3.63, 408.81], "nice": false, "zero": false}, "axis": null},
        "y2": {"datum": -15.4}
      }
    },
    {
      "data": {"values": [{"date": "2023-09-01", "i": 103.5}, {"date": "2023-10-12", "i": 285.1}]},
      "mark": {"type": "text", "font": "Noto Sans", "fontSize": 12.5, "color": "#ececec", "baseline": "middle", "align": "center"},
      "encoding": {
        "x": {"field": "i", "type": "quantitative", "title": null, "scale": {"domain": [-7, 308], "nice": false, "zero": false}},
        "y": {"datum": -10.4, "type": "quantitative", "scale": {"domain": [-3.63, 408.81], "nice": false, "zero": false}, "axis": null},
        "text": {"field": "date"}
      }
    }
  ],
  "resolve": {"scale": {"y": "independent", "color": "independent", "size": "independent"}}
}
